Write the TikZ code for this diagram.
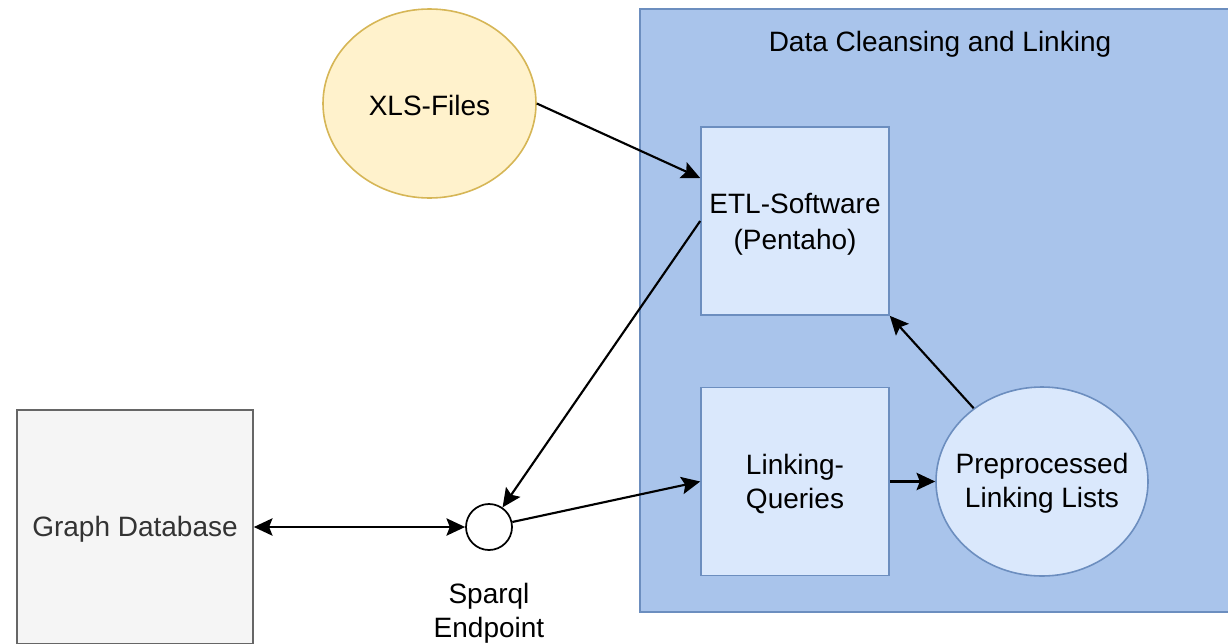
\documentclass[tikz,border=0pt]{standalone}
\usepackage{fontspec}
\setmainfont{Liberation Sans}
\usetikzlibrary{arrows.meta,shapes.geometric}
\definecolor{contfill}{HTML}{A9C4EB}
\definecolor{blueline}{HTML}{6C8EBF}
\definecolor{lightblue}{HTML}{DAE8FC}
\definecolor{yellowfill}{HTML}{FFF2CC}
\definecolor{yellowline}{HTML}{D6B656}
\definecolor{grayfill}{HTML}{F5F5F5}
\definecolor{grayline}{HTML}{666666}
\definecolor{graytext}{HTML}{333333}
\tikzset{
  txt/.style={font=\fontsize{21pt}{25.5pt}\selectfont, align=center, text=black, yshift=-1.5pt},
  container/.style={rectangle, draw=blueline, fill=contfill, line width=1.2pt, inner sep=0pt},
  procbox/.style={rectangle, draw=blueline, fill=lightblue, line width=1.2pt, inner sep=0pt,
    minimum width=141pt, minimum height=141pt},
  listell/.style={ellipse, draw=blueline, fill=lightblue, line width=1.2pt, inner sep=0pt,
    minimum width=159pt, minimum height=141.75pt},
  fileell/.style={ellipse, draw=yellowline, fill=yellowfill, line width=1.2pt, inner sep=0pt,
    minimum width=159.75pt, minimum height=141.75pt},
  dbbox/.style={rectangle, draw=grayline, fill=grayfill, line width=1.2pt, inner sep=0pt,
    minimum width=177pt, minimum height=175.5pt},
  endpt/.style={circle, draw=black, fill=white, line width=1.3pt, inner sep=0pt, minimum size=34.5pt},
  conn/.style={draw=black, line width=1.6pt, -{Stealth[length=14pt,width=13pt,inset=2.5pt]}},
  bconn/.style={draw=black, line width=1.6pt, {Stealth[length=14pt,width=13pt,inset=2.5pt]}-{Stealth[length=14pt,width=13pt,inset=2.5pt]}}
}
\begin{document}
\begin{tikzpicture}[x=0.75pt,y=-0.75pt]
\useasboundingbox (0,0) rectangle (1228,643);
% container
\node[container, minimum width=442.5pt, minimum height=452.25pt] (dcl) at (935,310.5) {};
\node[txt] (title) at (940,42) {Data Cleansing and Linking};
% shapes
\node[procbox] (etl) at (795,221) {};
\node[procbox] (lq) at (795,481.5) {};
\node[listell] (pre) at (1042,481.5) {};
\node[fileell] (xls) at (429.5,103.5) {};
\node[dbbox] (gdb) at (135,527) {};
\node[endpt] (sp) at (489,527) {};
% texts
\node[txt, yshift=-0.75pt] (etltext) at (etl.center) {ETL-Software\\[1.5pt](Pentaho)};
\node[txt] (lqtext) at (lq.center) {Linking-\\Queries};
\node[txt] (pretext) at (pre.center) {Preprocessed\\Linking Lists};
\node[txt] (xlstext) at (xls.center) {XLS-Files};
\node[txt, text=graytext] (gdbtext) at (gdb.center) {Graph Database};
\node[txt] (splabel) at (489,611) {Sparql\\Endpoint};
% connectors
\draw[conn] (xls.east) -- ([yshift=32.25pt]etl.west);
\draw[conn] (etl.west) -- (sp);
\draw[bconn] (gdb.east) -- (sp.west);
\draw[conn] (sp) -- (lq.west);
\draw[conn] (lq.east) -- (pre.west);
\draw[conn] (pre.133) -- (etl.south east);
\end{tikzpicture}
\end{document}
